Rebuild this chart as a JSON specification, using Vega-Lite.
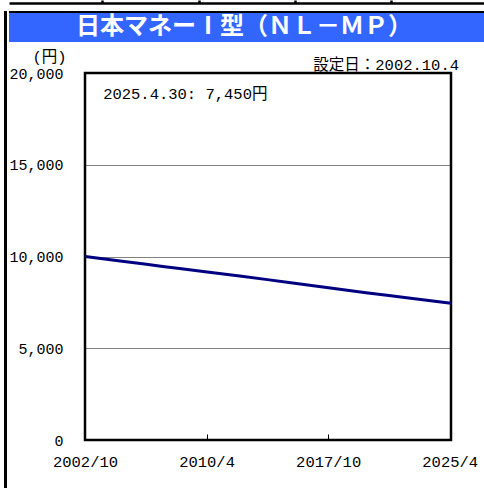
{
  "$schema": "https://vega.github.io/schema/vega-lite/v6.json",
  "background": "white",
  "padding": {"left": 4, "top": -3, "right": 0, "bottom": 0},
  "spacing": 0,
  "hconcat": [
    {
      "data": {"values": [{"t": ""}]},
      "width": 1,
      "height": 489,
      "view": {"stroke": "black", "strokeWidth": 2, "fill": null},
      "mark": {"type": "text"},
      "encoding": {"text": {"field": "t"}}
    },
    {
      "spacing": 31,
      "bounds": "flush",
      "center": true,
      "vconcat": [
        {
          "width": 518,
          "height": 30,
          "view": {"fill": "#3366FF", "stroke": "black", "strokeWidth": 2, "strokeDash": [518, 1200]},
          "layer": [
            {
              "data": {"values": [{"t": "日本マネーⅠ型（ＮＬ－ＭＰ）"}]},
              "mark": {"type": "text", "font": "Noto Sans CJK JP", "fontSize": 24, "fontWeight": "bold", "color": "white", "align": "center", "baseline": "middle", "dx": -24},
              "encoding": {"text": {"field": "t"}}
            },
            {
              "data": {"values": [{"b": 1}, {"b": 2}, {"b": 3}, {"b": 4}, {"b": 5}]},
              "mark": {"type": "point", "opacity": 0},
              "encoding": {
                "x": {
                  "field": "b", "type": "quantitative",
                  "scale": {"domain": [0.031, 5.413], "nice": false, "zero": false},
                  "axis": {"orient": "top", "offset": 9, "values": [1, 2, 3, 4], "labels": false, "title": null, "grid": false, "domainColor": "black", "domainWidth": 2.5, "tickColor": "black", "tickWidth": 2.5, "tickSize": 3}
                }
              }
            }
          ]
        },
        {
          "width": 366,
          "height": 367,
          "view": {"stroke": "black", "strokeWidth": 2.5, "fill": "white"},
          "title": {"text": "設定日：2002.10.4", "anchor": "end", "frame": "group", "orient": "top", "font": "Liberation Mono, Noto Sans CJK JP", "fontSize": 15.5, "fontWeight": "normal", "color": "black", "baseline": "middle", "offset": -31, "dx": 8},
          "layer": [
            {
              "data": {"values": [
                {"date": "2002-10-04", "value": 10000},
                {"date": "2005-03-01", "value": 9730},
                {"date": "2006-06-01", "value": 9590},
                {"date": "2007-09-01", "value": 9445},
                {"date": "2008-08-01", "value": 9345},
                {"date": "2010-03-01", "value": 9165},
                {"date": "2012-06-01", "value": 8920},
                {"date": "2014-01-01", "value": 8740},
                {"date": "2015-05-01", "value": 8585},
                {"date": "2018-01-01", "value": 8265},
                {"date": "2020-02-01", "value": 8025},
                {"date": "2021-07-01", "value": 7875},
                {"date": "2022-11-01", "value": 7730},
                {"date": "2025-04-30", "value": 7450}
              ]},
              "mark": {"type": "line", "color": "#000080", "strokeWidth": 3},
              "encoding": {
                "x": {
                  "field": "date", "type": "temporal",
                  "scale": {"type": "utc", "domain": [{"year": 2002, "month": 10, "date": 1, "utc": true}, {"year": 2025, "month": 4, "date": 30, "utc": true}]},
                  "axis": {
                    "title": null,
                    "values": [
                      {"year": 2002, "month": 10, "date": 1, "utc": true},
                      {"year": 2010, "month": 4, "date": 1, "utc": true},
                      {"year": 2017, "month": 10, "date": 1, "utc": true},
                      {"year": 2025, "month": 4, "date": 1, "utc": true}
                    ],
                    "labelExpr": "utcFormat(datum.value, '%Y/%-m')",
                    "grid": false,
                    "domain": false,
                    "ticks": true,
                    "tickSize": -6,
                    "tickColor": "black",
                    "tickWidth": 1,
                    "labelFont": "Liberation Mono",
                    "labelFontSize": 15.5,
                    "labelColor": "black",
                    "labelBaseline": "middle",
                    "labelPadding": 27,
                    "labelFlush": false,
                    "labelOverlap": false
                  }
                },
                "y": {
                  "field": "value", "type": "quantitative",
                  "scale": {"domain": [0, 20000], "nice": false},
                  "axis": {
                    "values": [0, 5000, 10000, 15000, 20000],
                    "format": ",d",
                    "title": "(円)",
                    "titleAngle": 0,
                    "titleX": -36,
                    "titleY": -17,
                    "titleAlign": "center",
                    "titleBaseline": "middle",
                    "titleFont": "Liberation Mono, Noto Sans CJK JP",
                    "titleFontSize": 15.5,
                    "titleFontWeight": "normal",
                    "titleColor": "black",
                    "domain": false,
                    "ticks": false,
                    "labelPadding": 22,
                    "labelFont": "Liberation Mono",
                    "labelFontSize": 15,
                    "labelColor": "black",
                    "labelBaseline": "middle",
                    "grid": true,
                    "gridColor": "black",
                    "gridDash": [1, 1],
                    "gridWidth": 1,
                    "gridOpacity": 1
                  }
                }
              }
            },
            {
              "data": {"values": [{"label": "2025.4.30: 7,450円"}]},
              "mark": {"type": "text", "font": "Liberation Mono, Noto Sans CJK JP", "fontSize": 15.5, "color": "black", "align": "left", "baseline": "middle"},
              "encoding": {
                "x": {"datum": {"year": 2003, "month": 11, "date": 14, "utc": true}, "type": "temporal"},
                "y": {"datum": 18850, "type": "quantitative"},
                "text": {"field": "label"}
              }
            }
          ]
        }
      ]
    }
  ]
}
